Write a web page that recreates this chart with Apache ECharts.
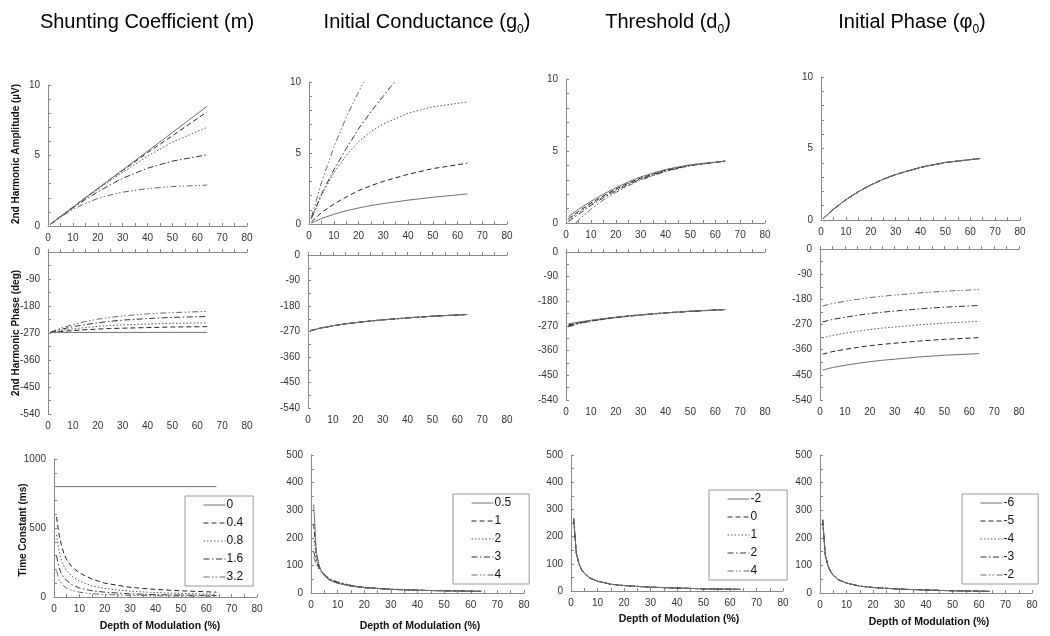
<!DOCTYPE html>
<html><head><meta charset="utf-8">
<script src="https://cdn.jsdelivr.net/npm/echarts@6/dist/echarts.min.js"></script>
<style>html,body{margin:0;padding:0;background:#fff}#c{width:1050px;height:636px}</style>
</head><body><div id="c"></div>
<script>
// ---------- DATA ----------
const depthA = [1,5,10,15,20,25,30,40,50,64];
const depthT = [1,2,3,4,5,7,10,15,20,30,40,50,64];
const depthG3 = [1,5,10,15,20,25,30,34.5];
const depthG4 = [1,5,10,15,20,22];
const depthD4 = [4,5,10,15,20,25,30,40,50,64];

const mLabels = ['0','0.4','0.8','1.6','3.2'];
const gLabels = ['0.5','1','2','3','4'];
const dLabels = ['-2','0','1','2','4'];
const pLabels = ['-6','-5','-4','-3','-2'];

// Column 1: shunting coefficient m
const ampByM = [
  [0.13,0.67,1.33,2.0,2.66,3.32,3.98,5.3,6.63,8.5],
  [0.13,0.67,1.33,2.0,2.65,3.3,3.93,5.2,6.4,8.1],
  [0.13,0.66,1.32,1.96,2.6,3.2,3.8,4.95,5.95,7.0],
  [0.13,0.65,1.28,1.87,2.42,2.92,3.38,4.1,4.6,5.05],
  [0.13,0.62,1.18,1.6,1.95,2.2,2.4,2.65,2.8,2.9]
];
const phaseByM = [
  [-268,-268,-268,-268,-268,-268,-268,-268,-268,-268],
  [-268,-265,-262,-259,-257,-255,-254,-252,-250,-249],
  [-268,-262,-256,-252,-248,-245,-243,-240,-238,-236],
  [-268,-258,-249,-242,-236,-231,-227,-222,-218,-215],
  [-268,-254,-242,-232,-224,-218,-213,-206,-202,-198]
];
const tauByM = [
  [800,800,800,800,800,800,800,800,800,800,800,800,800],
  [580,450,370,310,270,220,175,130,100,70,55,45,35],
  [450,330,260,220,190,150,115,80,62,42,32,26,20],
  [300,210,165,138,120,90,65,45,35,23,17,14,11],
  [190,125,95,78,65,48,35,24,18,12,9,7,6]
];

// Column 2: initial conductance g0
const ampByG = [
  [0.07,0.38,0.68,0.93,1.13,1.3,1.44,1.68,1.88,2.12],
  [0.15,0.8,1.4,1.9,2.35,2.7,3.0,3.5,3.9,4.28],
  [0.35,2.0,3.6,4.8,5.8,6.5,7.05,7.8,8.25,8.6],
  [0.4,2.1,3.8,5.3,6.7,7.9,9.0,10],
  [0.5,2.9,5.4,7.5,9.3,10]
];
const phaseByG = [
  [-267,-258,-250,-243,-238,-233,-229,-222,-216,-210],
  [-267,-258,-250,-243,-238,-233,-229,-222,-216,-210],
  [-267,-258,-250,-243,-238,-233,-229,-222,-216,-210],
  [-267,-258,-250,-243,-238,-233,-229,-222,-216,-210],
  [-267,-258,-250,-243,-238,-233,-229,-222,-216,-210]
];
const tauByG = [
  [320,150,100,78,62,46,35,25,19,13,10,8,6],
  [250,140,98,78,64,47,36,25,19,13,10,8,6],
  [200,130,95,77,66,49,37,26,20,13,10,8,6],
  [150,115,90,76,67,50,39,27,20,14,10,8,6],
  [130,105,88,76,68,52,40,28,21,14,10,8,6]
];

// Column 3: threshold d0
const ampByD = [
  [0.45,0.95,1.5,2.0,2.45,2.85,3.2,3.72,4.05,4.3],
  [0.3,0.8,1.38,1.88,2.35,2.77,3.12,3.67,4.02,4.3],
  [0.2,0.72,1.3,1.82,2.3,2.72,3.08,3.65,4.01,4.3],
  [0.1,0.6,1.22,1.75,2.22,2.66,3.03,3.62,4.0,4.3],
  [0,0.2,0.95,1.6,2.12,2.58,2.98,3.58,3.98,4.3]
];
const phaseByD = [
  [-262,-256,-249,-243,-238,-233,-229,-222,-216,-210],
  [-266,-258,-250,-244,-238,-234,-229,-222,-216,-210],
  [-268,-259,-251,-244,-239,-234,-230,-222,-216,-210],
  [-270,-260,-252,-245,-239,-234,-230,-222,-217,-210],
  [-273,-262,-253,-246,-240,-235,-230,-223,-217,-210]
];
const tauByD = [
  [268,140,100,78,65,48,36,25,20,14,11,8,6],
  [267,140,100,78,65,48,36,25,20,14,11,8,6],
  [266,139,100,78,65,48,36,25,20,14,11,8,6],
  [265,139,99,78,65,48,36,25,20,14,11,8,6],
  [264,138,99,78,65,48,36,25,20,14,11,8,6]
];

// Column 4: initial phase phi0
const ampByP = [
  [0.12,0.75,1.42,1.98,2.45,2.85,3.18,3.68,4.02,4.3],
  [0.12,0.75,1.42,1.98,2.45,2.85,3.18,3.68,4.02,4.3],
  [0.12,0.75,1.42,1.98,2.45,2.85,3.18,3.68,4.02,4.3],
  [0.12,0.75,1.42,1.98,2.45,2.85,3.18,3.68,4.02,4.3],
  [0.12,0.75,1.42,1.98,2.45,2.85,3.18,3.68,4.02,4.3]
];
const phaseByP = [
  [-433,-424,-416,-409,-403,-398,-394,-386,-380,-374],
  [-376,-367,-359,-352,-346,-341,-337,-329,-323,-317],
  [-318,-309,-301,-294,-288,-283,-279,-271,-265,-259],
  [-261,-252,-244,-237,-231,-226,-222,-214,-208,-202],
  [-204,-195,-187,-180,-174,-169,-165,-157,-151,-145]
];
const tauByP = [
  [265,138,99,78,64,48,36,25,20,14,11,8,6],
  [265,138,99,78,64,48,36,25,20,14,11,8,6],
  [265,138,99,78,64,48,36,25,20,14,11,8,6],
  [265,138,99,78,64,48,36,25,20,14,11,8,6],
  [265,138,99,78,64,48,36,25,20,14,11,8,6]
];

// ---------- LAYOUT / STYLE ----------
const FF = 'Liberation Sans, Arial, Helvetica, sans-serif';
const grids = [
  // row 1
  {left:48, top:85, width:199, height:141},
  {left:309, top:82, width:198, height:142},
  {left:566, top:79, width:199, height:144},
  {left:821, top:77, width:199, height:143},
  // row 2
  {left:48, top:252, width:199, height:162},
  {left:308, top:255, width:199, height:153},
  {left:566, top:252, width:199, height:148},
  {left:820, top:249, width:199, height:151},
  // row 3
  {left:54, top:459, width:203, height:138},
  {left:311, top:455, width:213, height:138},
  {left:571, top:455, width:212, height:136},
  {left:820, top:455, width:212, height:138}
];
const lineStyles = [
  {type:'solid', color:'#707070', width:1},
  {type:[5,3], color:'#222', width:1},
  {type:[1.5,2], color:'#555', width:1},
  {type:[6,2.5,1.5,2.5], color:'#333', width:1},
  {type:[6,2.5,1.5,2,1.5,2.5], color:'#666', width:1}
];
const axisColor = '#888';

function xAxis(gi){
  return {type:'value', gridIndex:gi, min:0, max:80, interval:10,
    axisLine:{lineStyle:{color:axisColor}},
    axisTick:{show:true, inside:true, length:3, lineStyle:{color:axisColor}},
    minorTick:{show:true, splitNumber:2, length:3, lineStyle:{color:axisColor}},
    axisLabel:{fontSize:10, color:'#333', margin:7, fontFamily:FF},
    splitLine:{show:false}};
}
function yAxis(gi, min, max, interval, minor){
  return {type:'value', gridIndex:gi, min:min, max:max, interval:interval,
    axisLine:{show:true, lineStyle:{color:axisColor}},
    axisTick:{show:true, inside:true, length:3, lineStyle:{color:axisColor}},
    minorTick:{show:true, splitNumber:minor, length:3, lineStyle:{color:axisColor}},
    axisLabel:{fontSize:10, color:'#333', margin:8, fontFamily:FF, formatter:v => String(v)},
    splitLine:{show:false}};
}

const xAxes = [], yAxes = [];
for (let gi=0; gi<12; gi++){
  xAxes.push(xAxis(gi));
  const row = Math.floor(gi/4), col = gi%4;
  if (row===0) yAxes.push(yAxis(gi,0,10,5,5));
  else if (row===1) yAxes.push(yAxis(gi,-540,0,90,2));
  else if (col===0) yAxes.push(yAxis(gi,0,1000,500,5));
  else yAxes.push(yAxis(gi,0,500,100,2));
}

const columns = [
  {labels:mLabels, amp:ampByM, phase:phaseByM, tau:tauByM, ampX:[depthA,depthA,depthA,depthA,depthA]},
  {labels:gLabels, amp:ampByG, phase:phaseByG, tau:tauByG, ampX:[depthA,depthA,depthA,depthG3,depthG4]},
  {labels:dLabels, amp:ampByD, phase:phaseByD, tau:tauByD, ampX:[depthA,depthA,depthA,depthA,depthD4]},
  {labels:pLabels, amp:ampByP, phase:phaseByP, tau:tauByP, ampX:[depthA,depthA,depthA,depthA,depthA]}
];

function pairs(xs, ys){ return ys.map((v,i)=>[xs[i], v]); }

const series = [];
const legends = [];
const legendPos = [
  {left:185, top:496, pr:10}, {left:453, top:494, pr:18}, {left:709, top:490, pr:26}, {left:962, top:494, pr:24}
];
columns.forEach((col, c) => {
  const names = col.labels.map(l => 'c'+c+'|'+l);
  col.labels.forEach((l, k) => {
    const base = {type:'line', name:names[k], symbol:'none', showSymbol:false,
      smooth:false, lineStyle:lineStyles[k], itemStyle:{color:lineStyles[k].color},
      silent:true, animation:false, z: 10-k};
    series.push(Object.assign({}, base, {xAxisIndex:c, yAxisIndex:c, data:pairs(col.ampX[k], col.amp[k])}));
    series.push(Object.assign({}, base, {xAxisIndex:4+c, yAxisIndex:4+c, data:pairs(depthA, col.phase[k])}));
    series.push(Object.assign({}, base, {xAxisIndex:8+c, yAxisIndex:8+c, data:pairs(depthT, col.tau[k])}));
  });
  legends.push({show:true, orient:'vertical', left:legendPos[c].left, top:legendPos[c].top,
    data:names, formatter:n => n.split('|')[1], selectedMode:false,
    itemWidth:22, itemHeight:14, itemGap:6, padding:[3,legendPos[c].pr,3,18],
    itemStyle:{opacity:0}, lineStyle:{width:1},
    borderColor:'#999', borderWidth:1, backgroundColor:'#fff',
    textStyle:{fontSize:12, color:'#111', fontFamily:FF, padding:[0,0,0,-4]}, z:20});
});

// ---------- TEXT ----------
const titleRich = {
  n:{fontSize:20, fontFamily:FF, color:'#111', lineHeight:28},
  s:{fontSize:12, fontFamily:FF, color:'#111', lineHeight:12, verticalAlign:'bottom'}
};
const titlePos = [147, 427, 668, 912];
const graphics = [];
const titleTexts = [
  '{n|Shunting Coefficient (m)}',
  '{n|Initial Conductance (g}{s|0}{n|)}',
  '{n|Threshold (d}{s|0}{n|)}',
  '{n|Initial Phase (\u03C6}{s|0}{n|)}'
];
titleTexts.forEach((t,i)=>{
  graphics.push({type:'text', x:titlePos[i], y:22,
    style:{text:t, rich:titleRich, textAlign:'center', textVerticalAlign:'middle', fontFamily:FF}});
});
const yNames = [
  {t:'2nd Harmonic Amplitude (\u00B5V)', x:16, y:154},
  {t:'2nd Harmonic Phase (deg)', x:16, y:333},
  {t:'Time Constant (ms)', x:23, y:530}
];
yNames.forEach(o=>{
  graphics.push({type:'text', x:o.x, y:o.y, rotation:Math.PI/2,
    style:{text:o.t, fontSize:10, fontWeight:'bold', fontFamily:FF, fill:'#111',
      textAlign:'center', textVerticalAlign:'middle'}});
});
const xNamePos = [{x:160,y:626},{x:420,y:626},{x:679,y:619},{x:929,y:622}];
xNamePos.forEach(o=>{
  graphics.push({type:'text', x:o.x, y:o.y,
    style:{text:'Depth of Modulation (%)', fontSize:10.5, fontWeight:'bold', fontFamily:FF, fill:'#111',
      textAlign:'center', textVerticalAlign:'middle'}});
});

const chart = echarts.init(document.getElementById('c'), null, {renderer:'canvas'});
chart.setOption({
  animation:false,
  backgroundColor:'#fff',
  grid: grids.map(g => Object.assign({containLabel:false}, g)),
  xAxis: xAxes,
  yAxis: yAxes,
  legend: legends,
  series: series,
  graphic: graphics
});
</script></body></html>
